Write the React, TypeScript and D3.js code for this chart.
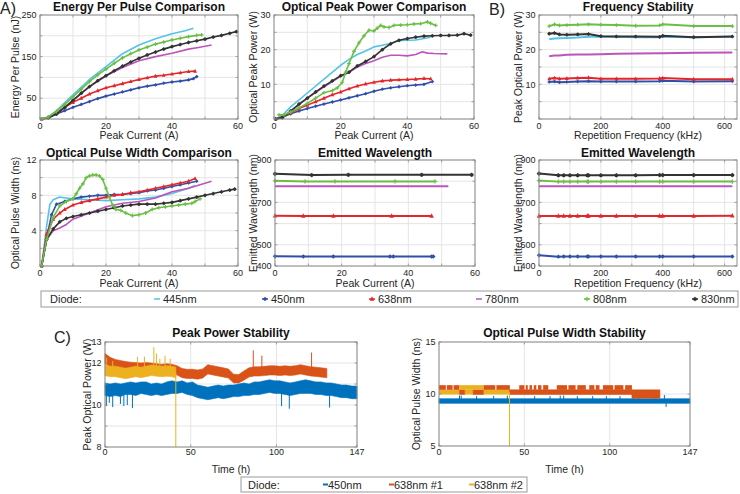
import React from 'react';
import * as d3 from 'd3';

type Pt = [number, number];
type Band = [number, number, number];
type Scale = d3.ScaleLinear<number, number>;

const FONT = "'Liberation Sans', Arial, Helvetica, sans-serif";
const AXIS_COLOR = '#8c8c8c';
const GRID_COLOR = '#e2e2e2';
const TEXT_COLOR = '#262626';

// ---------------- Diodes ----------------
const diodeNames = ['445nm', '450nm', '638nm', '780nm', '808nm', '830nm'];
const diodeColors = ['#55c3e6', '#3050a8', '#e3262b', '#bb55bb', '#6abf45', '#333333'];
const diodeMarkers = ['none', 'diamond', 'tri', 'none', 'plus', 'star'];
const drawOrder = [0, 3, 1, 2, 5, 4];

// ---------------- Energy per pulse (nJ) vs peak current (A) ----------------
const energy445: Pt[] = [[0.5, 0], [2, 2], [5, 20], [10, 58], [15, 95], [20, 126], [25, 157], [30, 178], [35, 193], [40, 205], [44, 212], [46.5, 218]];
const energy450: Pt[] = [[0.5, 0], [2.5, 3], [5, 12], [7.5, 20], [10, 28], [12.5, 35], [15, 42], [17.5, 49], [20, 55], [22.5, 60], [25, 65], [27.5, 70], [30, 75], [32.5, 79], [35, 82], [37.5, 86], [40, 89], [42.5, 91], [45, 94], [46.5, 97], [47.5, 102]];
const energy638: Pt[] = [[0.5, 0], [2.5, 4], [5, 15], [7.5, 28], [10, 40], [12.5, 50], [15, 60], [17.5, 68], [20, 75], [22.5, 80], [25, 85], [27.5, 90], [30, 95], [32.5, 99], [35, 103], [37.5, 105], [40, 108], [42.5, 111], [45, 114], [47, 115]];
const energy780: Pt[] = [[0.5, 0], [2, 2], [5, 12], [10, 45], [15, 78], [20, 104], [25, 124], [30, 140], [35, 150], [40, 158], [45, 168], [48, 172], [52, 178]];
const energy808: Pt[] = [[0.5, 0], [2.5, 5], [5, 18], [7.5, 35], [10, 53], [12.5, 72], [15, 90], [17.5, 106], [20, 120], [22.5, 134], [25, 147], [27.5, 157], [30, 166], [32.5, 173], [35, 180], [37.5, 185], [40, 190], [42.5, 194], [45, 198], [47.5, 201], [49, 202]];
const energy830: Pt[] = [[0.5, 0], [2.5, 3], [5, 12], [7.5, 28], [10, 45], [12.5, 62], [15, 78], [17.5, 92], [20, 104], [22.5, 116], [25, 127], [27.5, 137], [30, 146], [32.5, 154], [35, 161], [37.5, 168], [40, 174], [42.5, 179], [45, 184], [47.5, 188], [50, 192], [52.5, 197], [55, 201], [57.5, 206], [59.5, 210]];
const energyData = [energy445, energy450, energy638, energy780, energy808, energy830];

// ---------------- Optical peak power (W) vs peak current (A) ----------------
const power445: Pt[] = [[0.5, 0], [2.5, 1], [5, 3.5], [10, 7.5], [15, 11.5], [20, 15.5], [22.5, 17.2], [25, 18.6], [27.5, 19.6], [30, 20.8], [32.5, 21.3], [35, 21.8], [37, 22.6], [40, 22.7], [42.5, 22.8], [45, 23.2], [47, 23.6]];
const power450: Pt[] = [[0.5, 0], [2.5, 0.5], [5, 1.5], [7.5, 2.3], [10, 3], [12.5, 3.7], [15, 4.3], [17.5, 4.9], [20, 5.5], [22.5, 6.1], [25, 6.7], [27.5, 7.3], [30, 8], [32.5, 8.6], [35, 9], [37.5, 9.3], [40, 9.6], [42.5, 9.8], [45, 10], [47.5, 10.8]];
const power638: Pt[] = [[0.5, 0], [2.5, 0.6], [5, 1.8], [7.5, 3], [10, 4], [12.5, 5], [15, 6], [17.5, 7], [20, 7.8], [22.5, 8.7], [25, 9.5], [27.5, 10.1], [30, 10.6], [32.5, 11], [35, 11.2], [37.5, 11.3], [40, 11.4], [42.5, 11.5], [45, 11.7], [47, 11.6]];
const power780: Pt[] = [[0.5, 0], [2.5, 0.4], [5, 2.3], [10, 6], [15, 9.3], [20, 12.3], [22.5, 13.5], [25, 15], [27.5, 16], [30, 16.8], [32.5, 17.8], [35, 18.4], [37.5, 18.4], [40, 18.2], [42.5, 18.6], [44.5, 19.4], [46, 19], [48, 18.9], [52, 18.8]];
const power808: Pt[] = [[1.5, 1.2], [3, 1.2], [5, 2], [7.5, 3.2], [10, 4.5], [12.5, 6], [15, 7.6], [17.5, 8.2], [19, 9], [20.5, 10.6], [21.5, 13.5], [22.5, 16], [24, 19.5], [25.5, 22], [27, 24], [28.5, 25.6], [30, 25.4], [31, 26.2], [32, 27], [33, 26.6], [34.5, 26.4], [36, 27], [38, 27.1], [40, 27.2], [42, 27.4], [44, 27.5], [46, 28], [47, 27.6], [48.5, 27]];
const power830: Pt[] = [[0.5, 0], [2.5, 0.4], [5, 2.3], [7.5, 4.3], [10, 6], [12.5, 7.8], [15, 9.5], [17.5, 11], [20, 12.5], [22.5, 13.5], [25, 15.3], [27.5, 16.6], [30, 18], [32.5, 20], [35, 21.7], [37.5, 22.7], [40, 23.2], [42.5, 23.6], [45, 23.9], [47.5, 24], [50, 24.1], [52.5, 24.1], [55, 24.2], [57, 24.6], [59, 24.2]];
const powerData = [power445, power450, power638, power780, power808, power830];

// ---------------- Frequency stability: peak power (W) vs repetition frequency (kHz) ----------------
const repFreq = [33, 50, 66, 90, 125, 160, 200, 250, 312.5, 390, 400, 500, 625];
const freqPower445 = [23.0, 23.2, 23.3, 23.4, 23.5, 23.7, 23.7, 23.7, 23.6, 23.6, 23.7, 23.6, 23.7];
const freqPower450 = [10.7, 10.8, 10.6, 10.7, 10.8, 10.9, 10.8, 10.8, 10.8, 10.9, 11.0, 10.8, 10.9];
const freqPower638 = [11.6, 11.8, 11.6, 11.7, 11.8, 11.9, 11.6, 11.6, 11.6, 11.7, 11.8, 11.5, 11.5];
const freqPower780 = [18.1, 18.3, 18.3, 18.5, 18.6, 18.6, 18.7, 18.8, 18.9, 19.0, 19.0, 19.1, 19.2];
const freqPower808 = [26.8, 27.3, 27.0, 27.1, 27.2, 27.3, 27.2, 27.1, 26.9, 27.0, 27.3, 26.8, 26.8];
const freqPower830 = [24.6, 24.8, 24.4, 24.3, 24.4, 24.5, 23.9, 23.8, 23.8, 23.7, 24.0, 23.6, 23.8];
const freqPowerData = [freqPower445, freqPower450, freqPower638, freqPower780, freqPower808, freqPower830];

// ---------------- Optical pulse width (ns) vs peak current (A) ----------------
const width445: Pt[] = [[0.5, 0], [2, 4.5], [3, 7], [4, 7.5], [6, 7.8], [8, 7.7], [10, 7.6], [15, 7.5], [20, 7.4], [25, 7.5], [30, 7.6], [35, 7.8], [40, 8.2], [45, 8.8], [47, 9.1]];
const width450: Pt[] = [[0.5, 0], [2.5, 4], [3.5, 5.8], [5, 7], [7.5, 7.3], [10, 7.6], [12.5, 7.8], [15, 7.9], [17.5, 8], [20, 8], [22.5, 8.1], [25, 8.1], [27.5, 8.2], [30, 8.3], [32.5, 8.5], [35, 8.6], [37.5, 8.8], [40, 9], [42.5, 9.2], [45, 9.4], [47.5, 9.6]];
const width638: Pt[] = [[0.5, 0], [2, 3.6], [4, 5.3], [6, 6], [7.5, 6.4], [10, 6.9], [12.5, 7.2], [15, 7.4], [17.5, 7.6], [20, 7.8], [22.5, 8], [25, 8.1], [27.5, 8.3], [30, 8.4], [32.5, 8.6], [35, 8.8], [37.5, 9], [40, 9.2], [42.5, 9.4], [45, 9.6], [47, 9.9]];
const width780: Pt[] = [[0.5, 0], [2, 3], [4, 4], [6, 4.3], [8, 4.7], [10, 5.3], [15, 6], [20, 6.7], [25, 7.1], [30, 7.3], [35, 7.7], [40, 8.4], [45, 8.8], [52, 9.6]];
const width808: Pt[] = [[0.5, 0], [2, 3], [4, 5.5], [6, 6.8], [8, 7.3], [10, 7.6], [11, 8.2], [12, 8.8], [13, 9.3], [14, 10], [15, 10.2], [16, 10.3], [17, 10.3], [18, 10.2], [19, 9.8], [20, 8.8], [21, 7.8], [22, 6.9], [23, 6.4], [24.5, 6.3], [26, 6], [28, 5.7], [30, 5.8], [32, 6], [34, 6.4], [36, 6.6], [38, 6.7], [40, 6.8], [42, 6.9], [44, 7], [46, 7.1], [47, 7.3], [48.5, 7.6]];
const width830: Pt[] = [[0.5, 0], [2, 3], [4, 4.2], [6, 5], [8, 5.4], [10, 5.6], [12.5, 5.8], [15, 6], [17.5, 6.2], [20, 6.4], [22.5, 6.6], [25, 6.8], [27.5, 6.9], [30, 7], [32.5, 7], [35, 7], [37.5, 7.1], [40, 7.2], [42.5, 7.4], [45, 7.6], [47.5, 7.8], [50, 8], [52.5, 8.2], [55, 8.4], [57.5, 8.6], [59, 8.7]];
const widthData = [width445, width450, width638, width780, width808, width830];

// ---------------- Emitted wavelength (nm) vs peak current (A) ----------------
const wlCur445: Pt[] = [];
const wlCur450: Pt[] = [[0, 446], [8.5, 445], [17.5, 445], [34.5, 445], [35.5, 445], [47, 445], [47.5, 445]];
const wlCur638: Pt[] = [[0, 637], [8.5, 636], [17.5, 636], [35, 636], [47, 636]];
const wlCur780: Pt[] = [[0, 776], [10, 776], [19, 776], [38, 776], [52, 776]];
const wlCur808: Pt[] = [[0, 802], [9, 799], [18, 799], [36, 799], [48, 799]];
const wlCur830: Pt[] = [[0, 835], [11, 829], [22, 830], [44, 830], [59, 830]];
const wlCurData = [wlCur445, wlCur450, wlCur638, wlCur780, wlCur808, wlCur830];

// ---------------- Emitted wavelength (nm) vs repetition frequency (kHz) ----------------
const wlFreq = [0, 62.5, 80, 100, 125, 156, 160, 200, 250, 312.5, 390, 400, 500, 625];
const wlFreq445: number[] = [];
const wlFreq450 = [451, 444, 445, 445, 445, 445, 445, 445, 445, 445, 445, 445, 445, 445];
const wlFreq638 = [636, 636, 636, 636, 636, 636, 636, 636, 636, 636, 636, 636, 636, 637];
const wlFreq780 = [776, 776, 776, 776, 776, 776, 776, 776, 776, 776, 776, 776, 776, 776];
const wlFreq808 = [803, 798, 798, 798, 798, 798, 798, 798, 798, 798, 798, 798, 798, 798];
const wlFreq830 = [836, 828, 828, 828, 828, 828, 828, 828, 828, 828, 829, 829, 829, 829];
const wlFreqData = [wlFreq445, wlFreq450, wlFreq638, wlFreq780, wlFreq808, wlFreq830];

// ---------------- C) Peak power stability (W) vs time (h): [t, low, high] ----------------
const stabNames = ['450nm', '638nm #1', '638nm #2'];
const stabColors = ['#0072bd', '#d95319', '#edb120'];
const pp450: Band[] = [[0, 10.45, 11.05], [3, 10.4, 11.0], [6, 10.45, 11.05], [9, 10.4, 11.0], [12, 10.5, 11.05], [15, 10.5, 11.1], [18, 10.45, 11.05], [21, 10.55, 11.1], [24, 10.5, 11.1], [27, 10.45, 11.0], [30, 10.5, 11.05], [33, 10.45, 11.0], [36, 10.5, 11.1], [39, 10.55, 11.15], [42, 10.55, 11.1], [45, 10.6, 11.15], [48, 10.5, 11.05], [51, 10.45, 11.1], [54, 10.35, 10.95], [57, 10.3, 10.9], [60, 10.25, 10.85], [63, 10.3, 10.9], [66, 10.35, 10.95], [69, 10.3, 10.9], [72, 10.35, 10.95], [75, 10.4, 10.95], [78, 10.4, 11.0], [81, 10.45, 11.05], [84, 10.45, 11.0], [87, 10.5, 11.1], [90, 10.5, 11.1], [93, 10.55, 11.15], [96, 10.6, 11.2], [99, 10.55, 11.15], [102, 10.55, 11.15], [105, 10.5, 11.1], [108, 10.45, 11.05], [111, 10.5, 11.1], [114, 10.55, 11.15], [117, 10.55, 11.2], [120, 10.55, 11.15], [123, 10.5, 11.1], [126, 10.5, 11.1], [129, 10.45, 11.05], [132, 10.45, 11.05], [135, 10.4, 11.0], [138, 10.35, 10.95], [141, 10.35, 10.95], [144, 10.3, 10.9], [147, 10.3, 10.9]];
const pp638a: Band[] = [[0, 11.95, 12.45], [3, 11.83, 12.27], [6, 11.73, 12.17], [9, 11.68, 12.12], [12, 11.63, 12.07], [15, 11.6, 12.04], [18, 11.58, 12.02], [21, 11.56, 12.0], [24, 11.58, 12.02], [27, 11.56, 12.0], [30, 11.53, 11.97], [33, 11.5, 11.94], [36, 11.53, 11.97], [39, 11.5, 11.94], [42, 11.43, 11.87], [45, 11.3, 11.74], [48, 11.26, 11.7], [51, 11.26, 11.7], [54, 11.23, 11.67], [57, 11.28, 11.72], [60, 11.48, 11.92], [63, 11.43, 11.87], [66, 11.38, 11.82], [69, 11.33, 11.77], [72, 11.28, 11.72], [75, 11.05, 11.47], [78, 11.05, 11.45], [81, 11.18, 11.62], [84, 11.33, 11.77], [87, 11.38, 11.82], [90, 11.38, 11.82], [93, 11.4, 11.84], [96, 11.43, 11.87], [99, 11.43, 11.87], [102, 11.4, 11.84], [105, 11.43, 11.87], [108, 11.4, 11.84], [111, 11.43, 11.87], [114, 11.48, 11.92], [117, 11.43, 11.87], [120, 11.38, 11.82], [123, 11.36, 11.8], [126, 11.33, 11.77], [129.4, 11.3, 11.74]];
const pp638b: Band[] = [[0, 11.4, 11.9], [3, 11.35, 11.85], [6, 11.35, 11.85], [9, 11.3, 11.8], [12, 11.25, 11.75], [15, 11.3, 11.8], [18, 11.35, 11.85], [21, 11.3, 11.8], [24, 11.35, 11.85], [27, 11.4, 11.9], [30, 11.37, 11.87], [33, 11.35, 11.85], [36, 11.37, 11.87], [39, 11.35, 11.85], [41.3, 11.3, 11.8]];
// isolated spikes [t, value]
const ppSpikes450: Pt[] = [[0.8, 9.95], [2.5, 10.1], [4.5, 9.9], [9, 10.05], [11, 9.95], [13, 10.0], [16, 9.85], [103, 9.95], [107.5, 9.82], [131, 9.88]];
const ppSpikes638a: Pt[] = [[86.5, 12.6], [91.5, 12.35], [120.5, 12.5]];
const ppSpikes638b: Pt[] = [[1, 12.25], [4.5, 12.1], [19, 12.3], [23, 12.3], [28.5, 12.75], [30, 12.45], [32, 12.2], [35, 12.35], [38, 12.2], [41.3, 8]];

// ---------------- C) Optical pulse width stability (ns) vs time (h) ----------------
const pw450: Band[] = [[0, 9.1, 9.55], [147, 9.1, 9.55]];
const pwTicks450: Pt[] = [[12, 9.85], [13, 9.85], [22, 9.8], [32, 9.8], [40, 9.85], [56, 9.8], [65, 9.8], [71, 9.85], [73, 9.85], [81, 9.8], [90, 9.8], [98, 9.8], [106, 9.8], [114, 9.85], [117, 9.8], [126, 9.8], [132, 9.9], [133, 8.75]];
const pw638aLow: Band[] = [[12, 9.95, 10.4], [15, 9.95, 10.4]];
const pw638aLow2: Band[] = [[20, 9.95, 10.4], [26, 9.95, 10.4]];
const pw638aMain: Band[] = [[41.3, 9.95, 10.4], [113, 9.95, 10.4]];
const pw638aEnd: Band[] = [[113, 9.6, 10.4], [129.4, 9.6, 10.4]];
const pw638aUpper: Pt[] = [[0, 4], [4.6, 8], [8.5, 12], [26, 33], [33.6, 41.5], [47, 50], [50.8, 52], [53, 54.5], [55.5, 57], [58, 60], [61, 64], [69, 75], [75.8, 80], [81, 86], [88, 91], [91.8, 94], [96, 102], [102.8, 108], [109, 113]];
const pw638bLow: Pt[] = [[0, 12], [15, 20], [26, 41.3]];
const pw638bUpper: Pt[] = [[12, 26]];
const pwDrop638b: Pt[] = [[41.3, 5]];

// ---------------- Components ----------------
function Marker({ kind, cx, cy, color, s = 2 }: { kind: string; cx: number; cy: number; color: string; s?: number }) {
  if (kind === 'diamond') return <path d={`M${cx},${cy - s}L${cx + s},${cy}L${cx},${cy + s}L${cx - s},${cy}Z`} fill={color} />;
  if (kind === 'tri') return <path d={`M${cx},${cy - s * 1.25}L${cx + s},${cy + s * 0.8}L${cx - s},${cy + s * 0.8}Z`} fill={color} />;
  if (kind === 'plus') return <path d={`M${cx - s},${cy}H${cx + s}M${cx},${cy - s}V${cy + s}`} stroke={color} strokeWidth={1.2} />;
  if (kind === 'star') return (
    <g>
      <circle cx={cx} cy={cy} r={s * 0.85} fill={color} />
      <path d={`M${cx - s},${cy}H${cx + s}M${cx},${cy - s}V${cy + s}`} stroke={color} strokeWidth={0.8} />
    </g>
  );
  return null;
}

function Curves({ x, y, data, lw = 1.6, ms = 1.9 }: { x: Scale; y: Scale; data: Pt[][]; lw?: number; ms?: number }) {
  const line = d3.line<Pt>().x(d => x(d[0])).y(d => y(d[1]));
  return (
    <g>
      {drawOrder.map(i => data[i].length ? (
        <g key={i}>
          <path d={line(data[i]) || ''} fill="none" stroke={diodeColors[i]} strokeWidth={lw} strokeLinejoin="round" />
          {diodeMarkers[i] !== 'none' && data[i].map((d, k) => (
            <Marker key={k} kind={diodeMarkers[i]} cx={x(d[0])} cy={y(d[1])} color={diodeColors[i]} s={ms} />
          ))}
        </g>
      ) : null)}
    </g>
  );
}

interface PanelProps {
  box: [number, number, number, number];
  xDomain: [number, number];
  yDomain: [number, number];
  xGrid: number[];
  yGrid: number[];
  xLabels: number[];
  yLabels: number[];
  title: string;
  titleY: number;
  xTitle: string;
  xTitleY: number;
  xTickY: number;
  yTitle: string;
  yTitleX: number;
  children: (x: Scale, y: Scale) => React.ReactNode;
}

function Panel(p: PanelProps) {
  const [x0, y0, x1, y1] = p.box;
  const x = d3.scaleLinear().domain(p.xDomain).range([x0, x1]);
  const y = d3.scaleLinear().domain(p.yDomain).range([y1, y0]);
  const cx = (x0 + x1) / 2;
  const cy = (y0 + y1) / 2;
  const tl = 2.5;
  return (
    <g>
      <rect x={x0} y={y0} width={x1 - x0} height={y1 - y0} fill="#fff" />
      {p.xGrid.map(v => <line key={`gx${v}`} x1={x(v)} x2={x(v)} y1={y0} y2={y1} stroke={GRID_COLOR} strokeWidth={0.9} />)}
      {p.yGrid.map(v => <line key={`gy${v}`} x1={x0} x2={x1} y1={y(v)} y2={y(v)} stroke={GRID_COLOR} strokeWidth={0.9} />)}
      {p.children(x, y)}
      <rect x={x0} y={y0} width={x1 - x0} height={y1 - y0} fill="none" stroke={AXIS_COLOR} strokeWidth={1} />
      {p.xGrid.map(v => (
        <path key={`tx${v}`} d={`M${x(v)},${y1}V${y1 - tl}M${x(v)},${y0}V${y0 + tl}`} stroke={AXIS_COLOR} strokeWidth={0.8} />
      ))}
      {p.yGrid.map(v => (
        <path key={`ty${v}`} d={`M${x0},${y(v)}H${x0 + tl}M${x1},${y(v)}H${x1 - tl}`} stroke={AXIS_COLOR} strokeWidth={0.8} />
      ))}
      {p.xLabels.map(v => (
        <text key={`lx${v}`} x={x(v)} y={p.xTickY} textAnchor="middle" fontSize={9} fill={TEXT_COLOR}>{v}</text>
      ))}
      {p.yLabels.map(v => (
        <text key={`ly${v}`} x={x0 - 3.5} y={y(v) + 3.2} textAnchor="end" fontSize={9} fill={TEXT_COLOR}>{v}</text>
      ))}
      <text x={cx} y={p.titleY} textAnchor="middle" fontSize={12} fontWeight="bold" fill="#111">{p.title}</text>
      <text x={cx} y={p.xTitleY} textAnchor="middle" fontSize={10.5} fill={TEXT_COLOR}>{p.xTitle}</text>
      <text transform={`translate(${p.yTitleX},${cy}) rotate(-90)`} textAnchor="middle" dy="0.35em" fontSize={10.5} fill={TEXT_COLOR}>{p.yTitle}</text>
    </g>
  );
}

function bandMid(data: Band[], t: number) {
  const i = Math.max(1, Math.min(data.length - 1, d3.bisector((d: Band) => d[0]).left(data, t)));
  const a = data[i - 1], b = data[i];
  const f = b[0] === a[0] ? 0 : (t - a[0]) / (b[0] - a[0]);
  return ((a[1] + a[2]) / 2) * (1 - f) + ((b[1] + b[2]) / 2) * f;
}

function BandArea({ x, y, data, color }: { x: Scale; y: Scale; data: Band[]; color: string }) {
  const area = d3.area<Band>().x(d => x(d[0])).y0(d => y(d[1])).y1(d => y(d[2]));
  return <path d={area(data) || ''} fill={color} stroke={color} strokeWidth={0.6} />;
}

function Spikes({ x, y, band, spikes, color }: { x: Scale; y: Scale; band: Band[]; spikes: Pt[]; color: string }) {
  return (
    <g>
      {spikes.map((s, k) => (
        <line key={k} x1={x(s[0])} x2={x(s[0])} y1={y(bandMid(band, s[0]))} y2={y(s[1])} stroke={color} strokeWidth={1} />
      ))}
    </g>
  );
}

function Segs({ x, y, segs, lo, hi, color }: { x: Scale; y: Scale; segs: Pt[]; lo: number; hi: number; color: string }) {
  return (
    <g>
      {segs.map((s, k) => (
        <rect key={k} x={x(s[0])} y={y(hi)} width={x(s[1]) - x(s[0])} height={y(lo) - y(hi)} fill={color} />
      ))}
    </g>
  );
}

function LegendMark({ kind, x, y, color }: { kind: string; x: number; y: number; color: string }) {
  return (
    <g>
      <line x1={x - 3} x2={x + 3} y1={y} y2={y} stroke={color} strokeWidth={1.5} />
      <Marker kind={kind} cx={x} cy={y} color={color} s={2.2} />
    </g>
  );
}

export default function App() {
  const legend1X = [157, 265, 372, 479, 587, 695];
  const legend2X = [323, 389, 469];
  return (
    <svg width={740} height={494} style={{ position: 'absolute', left: 0, top: 0, background: '#fff' }} fontFamily={FONT}>
      <rect x={0} y={0} width={740} height={494} fill="#fff" />
      <text x={0} y={14} fontSize={16} fill="#222">A)</text>
      <text x={489} y={15} fontSize={16} fill="#222">B)</text>
      <text x={54} y={343} fontSize={16} fill="#222">C)</text>

      <Panel box={[40, 15, 238, 119]} xDomain={[0, 60]} yDomain={[0, 250]} xGrid={[0, 10, 20, 30, 40, 50, 60]} yGrid={[0, 50, 100, 150, 200, 250]}
        xLabels={[0, 20, 40, 60]} yLabels={[50, 150, 250]} title="Energy Per Pulse Comparison" titleY={11}
        xTitle="Peak Current (A)" xTitleY={139} xTickY={128.5} yTitle="Energy Per Pulse (nJ)" yTitleX={15}>
        {(x, y) => <Curves x={x} y={y} data={energyData} />}
      </Panel>

      <Panel box={[274, 15, 474, 119]} xDomain={[0, 60]} yDomain={[0, 30]} xGrid={[0, 10, 20, 30, 40, 50, 60]} yGrid={[0, 5, 10, 15, 20, 25, 30]}
        xLabels={[0, 20, 40, 60]} yLabels={[10, 20, 30]} title="Optical Peak Power Comparison" titleY={11}
        xTitle="Peak Current (A)" xTitleY={139} xTickY={128.5} yTitle="Optical Peak Power (W)" yTitleX={253}>
        {(x, y) => <Curves x={x} y={y} data={powerData} />}
      </Panel>

      <Panel box={[539, 15, 737, 119]} xDomain={[0, 640]} yDomain={[0, 30]} xGrid={[0, 100, 200, 300, 400, 500, 600]} yGrid={[0, 5, 10, 15, 20, 25, 30]}
        xLabels={[0, 200, 400, 600]} yLabels={[10, 20, 30]} title="Frequency Stability" titleY={11}
        xTitle="Repetition Frequency (kHz)" xTitleY={139} xTickY={128.5} yTitle="Peak Optical Power (W)" yTitleX={518}>
        {(x, y) => <Curves x={x} y={y} lw={2} data={freqPowerData.map(vals => vals.map((v, k) => [repFreq[k], v] as Pt))} />}
      </Panel>

      <Panel box={[40, 160, 238, 266]} xDomain={[0, 60]} yDomain={[0, 12]} xGrid={[0, 10, 20, 30, 40, 50, 60]} yGrid={[0, 2, 4, 6, 8, 10, 12]}
        xLabels={[0, 20, 40, 60]} yLabels={[4, 8, 12]} title="Optical Pulse Width Comparison" titleY={157}
        xTitle="Peak Current (A)" xTitleY={287} xTickY={275.5} yTitle="Optical Pulse Width (ns)" yTitleX={15}>
        {(x, y) => <Curves x={x} y={y} data={widthData} />}
      </Panel>

      <Panel box={[275, 160, 475, 266]} xDomain={[0, 60]} yDomain={[400, 900]} xGrid={[0, 10, 20, 30, 40, 50, 60]} yGrid={[400, 500, 600, 700, 800, 900]}
        xLabels={[0, 20, 40, 60]} yLabels={[400, 500, 700, 900]} title="Emitted Wavelength" titleY={157}
        xTitle="Peak Current (A)" xTitleY={287} xTickY={275.5} yTitle="Emitted Wavelength (nm)" yTitleX={253}>
        {(x, y) => <Curves x={x} y={y} lw={2} ms={2.2} data={wlCurData} />}
      </Panel>

      <Panel box={[539, 160, 737, 266]} xDomain={[0, 640]} yDomain={[400, 900]} xGrid={[0, 100, 200, 300, 400, 500, 600]} yGrid={[400, 500, 600, 700, 800, 900]}
        xLabels={[0, 200, 400, 600]} yLabels={[400, 500, 700, 900]} title="Emitted Wavelength" titleY={157}
        xTitle="Repetition Frequency (kHz)" xTitleY={287} xTickY={275.5} yTitle="Emitted Wavelength (nm)" yTitleX={518}>
        {(x, y) => <Curves x={x} y={y} lw={2} ms={2.2} data={wlFreqData.map(vals => vals.map((v, k) => [wlFreq[k], v] as Pt))} />}
      </Panel>

      {/* Legend 1 */}
      <rect x={41} y={291} width={697} height={16} fill="#fff" stroke="#9a9a9a" strokeWidth={1} />
      <text x={50} y={303} fontSize={11} fill={TEXT_COLOR}>Diode:</text>
      {diodeNames.map((n, i) => (
        <g key={n}>
          <LegendMark kind={diodeMarkers[i]} x={legend1X[i]} y={299} color={diodeColors[i]} />
          <text x={legend1X[i] + 6} y={303} fontSize={11} fill={TEXT_COLOR}>{n}</text>
        </g>
      ))}

      <Panel box={[105, 342, 357, 447]} xDomain={[0, 147]} yDomain={[8, 13]} xGrid={[0, 50, 100, 147]} yGrid={[8, 9, 10, 11, 12, 13]}
        xLabels={[0, 50, 100, 147]} yLabels={[8, 10, 12, 13]} title="Peak Power Stability" titleY={337}
        xTitle="Time (h)" xTitleY={473} xTickY={455} yTitle="Peak Optical Power (W)" yTitleX={87}>
        {(x, y) => (
          <g>
            <BandArea x={x} y={y} data={pp450} color={stabColors[0]} />
            <Spikes x={x} y={y} band={pp450} spikes={ppSpikes450} color={stabColors[0]} />
            <BandArea x={x} y={y} data={pp638a} color={stabColors[1]} />
            <Spikes x={x} y={y} band={pp638a} spikes={ppSpikes638a} color={stabColors[1]} />
            <BandArea x={x} y={y} data={pp638b} color={stabColors[2]} />
            <Spikes x={x} y={y} band={pp638b} spikes={ppSpikes638b} color={stabColors[2]} />
          </g>
        )}
      </Panel>

      <Panel box={[439, 342, 690, 446]} xDomain={[0, 147]} yDomain={[5, 15]} xGrid={[0, 50, 100, 147]} yGrid={[5, 10, 15]}
        xLabels={[0, 50, 100, 147]} yLabels={[5, 10, 15]} title="Optical Pulse Width Stability" titleY={337}
        xTitle="Time (h)" xTitleY={473} xTickY={455} yTitle="Optical Pulse Width (ns)" yTitleX={416}>
        {(x, y) => (
          <g>
            <BandArea x={x} y={y} data={pw450} color={stabColors[0]} />
            {pwTicks450.map((s, k) => (
              <line key={k} x1={x(s[0])} x2={x(s[0])} y1={y(9.3)} y2={y(s[1])} stroke={stabColors[0]} strokeWidth={1} />
            ))}
            <Segs x={x} y={y} segs={pw638bLow} lo={9.95} hi={10.4} color={stabColors[2]} />
            <BandArea x={x} y={y} data={pw638aLow} color={stabColors[1]} />
            <BandArea x={x} y={y} data={pw638aLow2} color={stabColors[1]} />
            <BandArea x={x} y={y} data={pw638aMain} color={stabColors[1]} />
            <BandArea x={x} y={y} data={pw638aEnd} color={stabColors[1]} />
            <Segs x={x} y={y} segs={pw638aUpper} lo={10.4} hi={10.85} color={stabColors[1]} />
            <Segs x={x} y={y} segs={pw638bUpper} lo={10.4} hi={10.85} color={stabColors[2]} />
            {pwDrop638b.map((s, k) => (
              <line key={k} x1={x(s[0])} x2={x(s[0])} y1={y(10.2)} y2={y(s[1])} stroke={stabColors[2]} strokeWidth={1} />
            ))}
          </g>
        )}
      </Panel>

      {/* Legend 2 */}
      <rect x={241} y={477} width={286} height={15} fill="#fff" stroke="#9a9a9a" strokeWidth={1} />
      <text x={248} y={488.5} fontSize={11} fill={TEXT_COLOR}>Diode:</text>
      {stabNames.map((n, i) => (
        <g key={n}>
          <line x1={legend2X[i]} x2={legend2X[i] + 5} y1={484.5} y2={484.5} stroke={stabColors[i]} strokeWidth={2} />
          <text x={legend2X[i] + 5} y={488.5} fontSize={11} fill={TEXT_COLOR}>{n}</text>
        </g>
      ))}
    </svg>
  );
}
